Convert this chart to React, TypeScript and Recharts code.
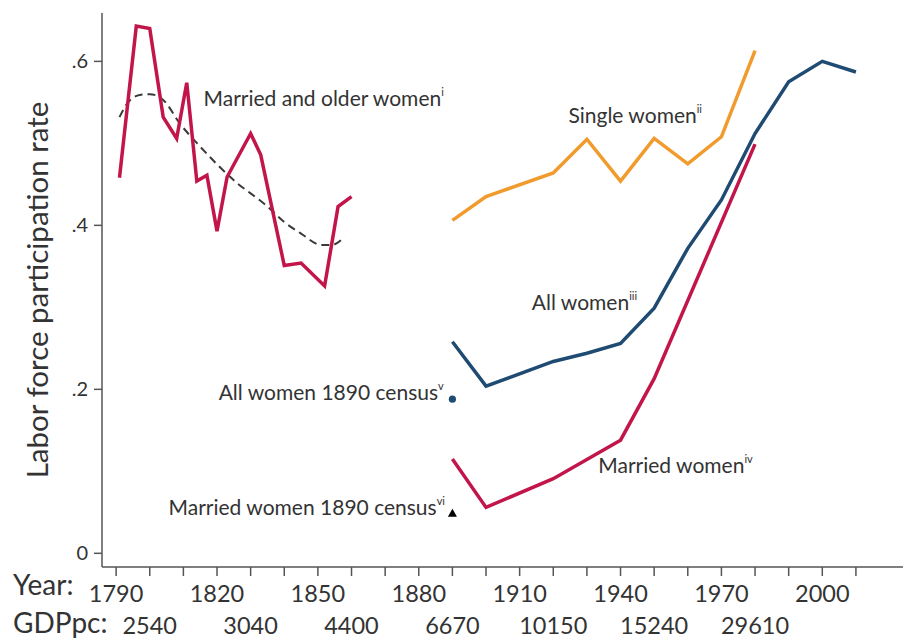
import React from "react";
import { ComposedChart, Line, Scatter, XAxis, YAxis, ReferenceDot, Label } from "recharts";

// married and older women, early period (red) + smoothed trend (dashed)
const olderYears = [1791, 1796, 1800, 1804, 1808, 1811, 1814, 1817, 1820, 1823, 1830, 1833, 1840, 1845, 1852, 1856, 1860];
const olderValues = [0.458, 0.643, 0.64, 0.532, 0.506, 0.574, 0.454, 0.461, 0.393, 0.459, 0.512, 0.486, 0.351, 0.354, 0.326, 0.423, 0.435];
const trendYears = [1791, 1793, 1797, 1800, 1804, 1809, 1815, 1825, 1835, 1840, 1845, 1851, 1854, 1858];
const trendValues = [0.532, 0.547, 0.559, 0.56, 0.553, 0.524, 0.496, 0.455, 0.423, 0.404, 0.39, 0.376, 0.376, 0.386];

const singleYears = [1890, 1900, 1920, 1930, 1940, 1950, 1960, 1970, 1980];
const singleValues = [0.406, 0.435, 0.464, 0.505, 0.454, 0.506, 0.475, 0.508, 0.613];

const allYears = [1890, 1900, 1920, 1930, 1940, 1950, 1960, 1970, 1980, 1990, 2000, 2010];
const allValues = [0.258, 0.204, 0.234, 0.244, 0.256, 0.299, 0.372, 0.431, 0.512, 0.575, 0.6, 0.587];

const marriedYears = [1890, 1900, 1920, 1940, 1950, 1980];
const marriedValues = [0.115, 0.056, 0.091, 0.138, 0.213, 0.499];

const censusAll = [{ year: 1890, v: 0.188 }];
const censusMarried = [{ year: 1890, v: 0.049 }];

const tickYears = [1790, 1800, 1810, 1820, 1830, 1840, 1850, 1860, 1870, 1880, 1890, 1900, 1910, 1920, 1930, 1940, 1950, 1960, 1970, 1980, 1990, 2000, 2010];
const yearLabels = [1790, 1820, 1850, 1880, 1910, 1940, 1970, 2000];
const gdpYears = [1800, 1830, 1860, 1890, 1920, 1950, 1980];
const gdpLabels = ["2540", "3040", "4400", "6670", "10150", "15240", "29610"];
const yTicks = [0, 0.2, 0.4, 0.6];

const zip = (xs: number[], vs: number[]) => xs.map((year, i) => ({ year, v: vs[i] }));

const FONT = "Lato, 'Open Sans', sans-serif";
const TXT = "#333";
const RED = "#c2164b";
const BLUE = "#1f4b73";
const ORANGE = "#f09b2c";

const XTick = (props: any) => {
  const { x, y, payload, index } = props;
  const yr = payload.value;
  const gi = gdpYears.indexOf(yr);
  return (
    <g fontFamily={FONT} fill={TXT}>
      {index === 0 && (
        <>
          <text x={x - 103} y={y + 8} fontSize={28} dominantBaseline="central" fill={TXT}>Year:</text>
          <text x={x - 103} y={y + 46} fontSize={28} dominantBaseline="central" fill={TXT}>GDPpc:</text>
        </>
      )}
      {yearLabels.includes(yr) && (
        <text x={x} y={y + 17} fontSize={23.5} textAnchor="middle" dominantBaseline="central" fill={TXT}>{yr}</text>
      )}
      {gi >= 0 && (
        <text x={x} y={y + 49} fontSize={23.5} textAnchor="middle" dominantBaseline="central" fill={TXT}>{gdpLabels[gi]}</text>
      )}
    </g>
  );
};

const note = (main: string, sup: string) => (p: any) => (
  <text x={p.cx} y={p.cy} fontFamily={FONT} fontSize={21} fill={TXT}>
    {main}
    <tspan fontSize={11} dy={-10}>{sup}</tspan>
  </text>
);

export default function App() {
  return (
    <div style={{ position: "absolute", left: 0, top: 0, background: "#fff" }}>
      <ComposedChart width={910} height={642} margin={{ top: 13, right: 7, bottom: 0, left: 0 }}>
        <XAxis
          type="number"
          dataKey="year"
          domain={[1785.8, 2024]}
          ticks={tickYears}
          interval={0}
          height={75}
          tickSize={9}
          tickMargin={0}
          tick={<XTick />}
          axisLine={{ stroke: "#555", strokeWidth: 1.5 }}
          tickLine={{ stroke: "#555", strokeWidth: 1.5 }}
          allowDataOverflow
        />
        <YAxis
          type="number"
          domain={[-0.0167, 0.659]}
          ticks={yTicks}
          width={102}
          tickSize={8}
          tickMargin={6}
          allowDataOverflow
          axisLine={{ stroke: "#555", strokeWidth: 1.5 }}
          tickLine={{ stroke: "#555", strokeWidth: 1.5 }}
          tick={{ fontSize: 20, fill: TXT, fontFamily: FONT }}
          tickFormatter={(v: number) => (v === 0 ? "0" : "." + Math.round(v * 10))}
        >
          <Label
            content={(p: any) => {
              const vb = p.viewBox;
              const cx = vb.x + 36;
              const cy = vb.y + vb.height / 2;
              return (
                <text x={cx} y={cy} transform={`rotate(-90 ${cx} ${cy})`} textAnchor="middle" dominantBaseline="central" fontFamily={FONT} fontSize={29.5} fill={TXT}>
                  Labor force participation rate
                </text>
              );
            }}
          />
        </YAxis>

        <Line data={zip(trendYears, trendValues)} dataKey="v" type="monotone" stroke="#3a3a3a" strokeWidth={2} strokeDasharray="8 5" dot={false} isAnimationActive={false} />
        <Line data={zip(olderYears, olderValues)} dataKey="v" type="linear" stroke={RED} strokeWidth={3.5} dot={false} isAnimationActive={false} />
        <Line data={zip(singleYears, singleValues)} dataKey="v" type="linear" stroke={ORANGE} strokeWidth={3.5} dot={false} isAnimationActive={false} />
        <Line data={zip(allYears, allValues)} dataKey="v" type="linear" stroke={BLUE} strokeWidth={3.5} dot={false} isAnimationActive={false} />
        <Line data={zip(marriedYears, marriedValues)} dataKey="v" type="linear" stroke={RED} strokeWidth={3.5} dot={false} isAnimationActive={false} />

        <Scatter data={censusAll} dataKey="v" isAnimationActive={false} shape={(p: any) => <circle cx={p.cx} cy={p.cy} r={3.6} fill={BLUE} />} />
        <Scatter
          data={censusMarried}
          dataKey="v"
          isAnimationActive={false}
          shape={(p: any) => <polygon points={`${p.cx},${p.cy - 4.5} ${p.cx - 4.5},${p.cy + 3.5} ${p.cx + 4.5},${p.cy + 3.5}`} fill="#000" />}
        />

        <ReferenceDot x={1816} y={0.5455} r={0} shape={note("Married and older women", "i")} />
        <ReferenceDot x={1924.5} y={0.525} r={0} shape={note("Single women", "ii")} />
        <ReferenceDot x={1913.6} y={0.2967} r={0} shape={note("All women", "iii")} />
        <ReferenceDot x={1933.4} y={0.0976} r={0} shape={note("Married women", "iv")} />
        <ReferenceDot x={1820.5} y={0.187} r={0} shape={note("All women 1890 census", "v")} />
        <ReferenceDot x={1805.6} y={0.0467} r={0} shape={note("Married women 1890 census", "vi")} />
      </ComposedChart>
    </div>
  );
}
